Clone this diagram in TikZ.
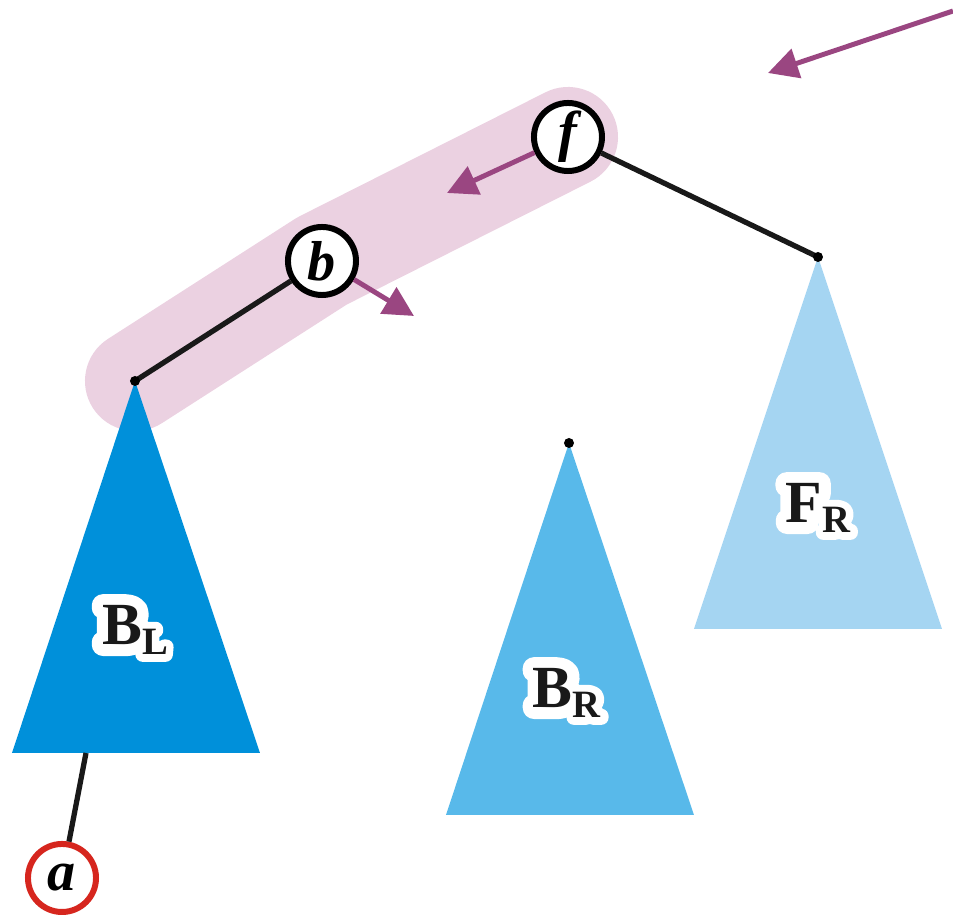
\documentclass[tikz,border=0pt]{standalone}
\usepackage{fontspec}
\setmainfont{Liberation Serif}
\newfontface\haloface[FakeBold=38]{Liberation Serif Bold}
\usetikzlibrary{positioning, arrows.meta}

\definecolor{bandpink}{HTML}{EBD1E1}
\definecolor{mvpurple}{HTML}{9A4681}
\definecolor{nilred}{HTML}{D6261E}
\definecolor{treedark}{HTML}{0090DA}
\definecolor{treemid}{HTML}{58B9EA}
\definecolor{treelight}{HTML}{A5D5F2}

% subtree label with a white halo
\newcommand{\treelabel}[4]{%
  \node[lbl, text=white] at (#1) {\special{pdf:literal direct 1 j}\haloface #3\raisebox{-2.8pt}{\fontsize{11}{11}\selectfont #4}};
  \node[lbl] (#2) at (#1) {\textbf{#3}\raisebox{-2.8pt}{\fontsize{11}{11}\selectfont\textbf{#4}}};
}

\begin{document}
\begin{tikzpicture}[x=0.01cm, y=-0.01cm,
    vtx/.style={circle, draw=black, fill=white, line width=1.7pt, minimum size=0.68cm, inner sep=0pt, font=\fontsize{16}{16}\selectfont\bfseries\itshape},
    edge/.style={line width=1.5pt, draw=black!90},
    mv/.style={line width=1.4pt, draw=mvpurple, -{Triangle[length=0.3cm, width=0.3cm]}, mvpurple},
    dot/.style={circle, fill=black, inner sep=0pt, minimum size=0.1cm},
    lbl/.style={font=\fontsize{17}{17}\selectfont, text=black!90}]
  \useasboundingbox (0,0) rectangle (953,916);

  % apexes of the subtrees
  \coordinate (blTop) at (135,381);
  \coordinate (brTop) at (569,443);
  \coordinate (frTop) at (818,257);
  \coordinate (aEnd) at (86,753);

  % highlighted path
  \draw[bandpink, line width=1cm, line cap=round, line join=round] (blTop) -- (322,261) -- (568,137);

  % subtrees
  \fill[treedark] (blTop) -- (12,753) -- (260,753) -- cycle;
  \fill[treemid] (brTop) -- (446,815) -- (694,815) -- cycle;
  \fill[treelight] (frTop) -- (694,629) -- (942,629) -- cycle;

  \node[vtx] (f) at (568,137) {f};
  \node[vtx] (b) at (322,261) {b};
  \node[vtx, draw=nilred] (a) at (62,878) {a};

  \draw[edge] (blTop) -- (b);
  \draw[edge] (f) -- (frTop);
  \draw[edge] (a) -- (aEnd);

  \node[dot] at (blTop) {};
  \node[dot] at (brTop) {};
  \node[dot] at (frTop) {};

  % rotation arrows
  \coordinate (fTo) at (447,193);
  \coordinate (bTo) at (414,316);
  \coordinate (inFrom) at (953,11);
  \coordinate (inTo) at (768,73);
  \draw[mv] (f.205) -- (fTo);
  \draw[mv] (b.-30) -- (bTo);
  \draw[mv] (inFrom) -- (inTo);

  \treelabel{135,630}{BL}{B}{L}
  \treelabel{567,693}{BR}{B}{R}
  \treelabel{818,508}{FR}{F}{R}
\end{tikzpicture}
\end{document}
